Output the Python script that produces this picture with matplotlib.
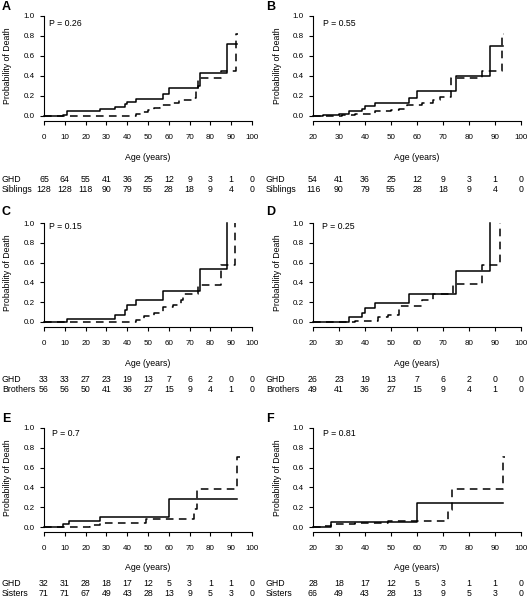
# cumulative probability of death, GHD vs siblings / brothers / sisters
import numpy as np
import matplotlib
matplotlib.use('Agg')
import matplotlib.pyplot as plt
import matplotlib.transforms as mtransforms

plt.rcParams['font.family'] = ['Liberation Sans', 'DejaVu Sans']

# ---- data (step curves: time of step, probability after step) ----
ghd_A_t = [0, 9, 11, 27, 34, 39, 40, 44, 57, 60, 74, 75, 88, 93]
ghd_A_p = [0, 0.01, 0.05, 0.07, 0.09, 0.12, 0.14, 0.17, 0.22, 0.28, 0.30, 0.43, 0.72, 0.72]
sib_A_t = [0, 10, 44, 47, 50, 53, 56, 62, 65, 72, 73, 74, 85, 92.5, 93.5]
sib_A_p = [0, 0.005, 0.02, 0.04, 0.06, 0.08, 0.11, 0.13, 0.16, 0.18, 0.28, 0.38, 0.45, 0.82, 0.82]

ghd_B_t = [20, 24, 30, 34, 39, 40, 44, 57, 60, 75, 88, 93]
ghd_B_p = [0, 0.01, 0.02, 0.05, 0.07, 0.10, 0.13, 0.18, 0.25, 0.40, 0.70, 0.70]
sib_B_t = [20, 24, 31, 36, 44, 50, 53, 56, 62, 66, 69, 73, 85, 92.5, 93.5]
sib_B_p = [0, 0.005, 0.01, 0.025, 0.05, 0.06, 0.07, 0.11, 0.13, 0.16, 0.19, 0.38, 0.45, 0.82, 0.82]

ghd_C_t = [0, 11, 34, 39, 40, 44, 57, 75, 88]
ghd_C_p = [0, 0.034, 0.074, 0.12, 0.17, 0.22, 0.31, 0.54, 1.0]
sib_C_t = [0, 44, 48, 53, 57, 62, 66, 67, 74, 85, 92]
sib_C_p = [0, 0.02, 0.06, 0.09, 0.15, 0.17, 0.22, 0.28, 0.37, 0.58, 1.0]

ghd_D_t = [20, 34, 39, 40, 44, 57, 75, 88]
ghd_D_p = [0, 0.05, 0.09, 0.145, 0.19, 0.28, 0.52, 1.0]
sib_D_t = [20, 36, 45, 49, 53, 62, 66, 74, 85, 92]
sib_D_p = [0, 0.007, 0.05, 0.067, 0.158, 0.225, 0.28, 0.387, 0.58, 1.0]

ghd_E_t = [0, 9, 12, 27, 60, 93]
ghd_E_p = [0, 0.034, 0.06, 0.104, 0.286, 0.286]
sib_E_t = [0, 10, 22, 27, 49, 72, 73.5, 93, 94]
sib_E_p = [0, 0.005, 0.02, 0.04, 0.084, 0.178, 0.387, 0.707, 0.707]

ghd_F_t = [20, 27, 60, 93]
ghd_F_p = [0, 0.05, 0.245, 0.245]
sib_F_t = [20, 23, 27, 36, 49, 72, 73.3, 93, 94]
sib_F_p = [0, 0.007, 0.03, 0.04, 0.064, 0.168, 0.387, 0.707, 0.707]

# number at risk
risk_A_ghd = [65, 64, 55, 41, 36, 25, 12, 9, 3, 1, 0]
risk_A_sib = [128, 128, 118, 90, 79, 55, 28, 18, 9, 4, 0]
risk_B_ghd = [54, 41, 36, 25, 12, 9, 3, 1, 0]
risk_B_sib = [116, 90, 79, 55, 28, 18, 9, 4, 0]
risk_C_ghd = [33, 33, 27, 23, 19, 13, 7, 6, 2, 0, 0]
risk_C_sib = [56, 56, 50, 41, 36, 27, 15, 9, 4, 1, 0]
risk_D_ghd = [26, 23, 19, 13, 7, 6, 2, 0, 0]
risk_D_sib = [49, 41, 36, 27, 15, 9, 4, 1, 0]
risk_E_ghd = [32, 31, 28, 18, 17, 12, 5, 3, 1, 1, 0]
risk_E_sib = [71, 71, 67, 49, 43, 28, 13, 9, 5, 3, 0]
risk_F_ghd = [28, 18, 17, 12, 5, 3, 1, 1, 0]
risk_F_sib = [66, 49, 43, 28, 13, 9, 5, 3, 0]

p_values = ['0.26', '0.55', '0.15', '0.25', '0.7', '0.81']
group_names = ['Siblings', 'Siblings', 'Brothers', 'Brothers', 'Sisters', 'Sisters']
letters = ['A', 'B', 'C', 'D', 'E', 'F']

W, H = 528, 603
fig = plt.figure(figsize=(W / 100, H / 100), dpi=100)


def px(x):
    return x / W


def py(y):
    return 1 - y / H


# panel geometry in pixels
cols = [(44, 252, 0, 2), (313, 521, 20, 266)]  # left, right, x min, label x
rows = [  # top(y=1), bottom(y=0), letter y, xlabel y, ghd row, group row, p text y
    (16, 116, 7, 157, 179.5, 189.5, 23),
    (223, 322, 212, 364, 379.5, 389.5, 227),
    (428, 527, 419, 568, 583.5, 593.5, 433),
]

curves = [
    (ghd_A_t, ghd_A_p, sib_A_t, sib_A_p, risk_A_ghd, risk_A_sib),
    (ghd_B_t, ghd_B_p, sib_B_t, sib_B_p, risk_B_ghd, risk_B_sib),
    (ghd_C_t, ghd_C_p, sib_C_t, sib_C_p, risk_C_ghd, risk_C_sib),
    (ghd_D_t, ghd_D_p, sib_D_t, sib_D_p, risk_D_ghd, risk_D_sib),
    (ghd_E_t, ghd_E_p, sib_E_t, sib_E_p, risk_E_ghd, risk_E_sib),
    (ghd_F_t, ghd_F_p, sib_F_t, sib_F_p, risk_F_ghd, risk_F_sib),
]
p_offset = [5, 10, 5, 9, 8, 10]

for i in range(6):
    r, c = divmod(i, 2)
    left, right, xmin, lab_x = cols[c]
    top, bottom, let_y, xl_y, ghd_y, grp_y, p_y = rows[r]
    gt, gp, st, sp, rg, rs = curves[i]

    ax = fig.add_axes([px(left), py(bottom), px(right - left), (bottom - top) / H])
    ax.step(gt, gp, where='post', color='black', lw=1.1, clip_on=False)
    ax.step(st, sp, where='post', color='black', lw=1.1, clip_on=False,
            linestyle=(0, (5, 3.5)))
    ax.set_xlim(xmin, 100)
    ax.set_ylim(0, 1)

    for s in ['top', 'right']:
        ax.spines[s].set_visible(False)
    ax.spines['left'].set_bounds(0, 1)
    ax.spines['bottom'].set_position(('outward', 3.6))
    ax.spines['bottom'].set_bounds(xmin, 100)
    for s in ['left', 'bottom']:
        ax.spines[s].set_linewidth(0.8)

    ticks = list(range(xmin, 101, 10))
    ax.set_xticks(ticks)
    ax.set_xticklabels([str(t) for t in ticks])
    ax.set_yticks([0, 0.2, 0.4, 0.6, 0.8, 1.0])
    ax.set_yticklabels(['0.0', '0.2', '0.4', '0.6', '0.8', '1.0'])
    ax.tick_params(axis='both', direction='out', length=2.6, width=0.8, labelsize=5.8)
    ax.tick_params(axis='x', pad=7)
    ax.tick_params(axis='y', pad=4.2)

    # texts
    fig.text(px(lab_x), py(let_y), letters[i], fontsize=9, fontweight='bold',
             ha='left', va='center')
    fig.text(px(left + p_offset[i]), py(p_y), 'P = ' + p_values[i], fontsize=6.3,
             ha='left', va='center')
    fig.text(px(left - 36), py((top + bottom) / 2), 'Probability of Death',
             fontsize=6.3, rotation=90, ha='center', va='center')
    fig.text(px((left + right) / 2), py(xl_y), 'Age (years)', fontsize=6.3,
             ha='center', va='center')

    # number at risk table
    trans = mtransforms.blended_transform_factory(ax.transData, fig.transFigure)
    fig.text(px(lab_x), py(ghd_y), 'GHD', fontsize=6.3, ha='left', va='center')
    fig.text(px(lab_x), py(grp_y), group_names[i], fontsize=6.3, ha='left', va='center')
    for t, n1, n2 in zip(ticks, rg, rs):
        ax.text(t, py(ghd_y), str(n1), transform=trans, fontsize=6.3,
                ha='center', va='center')
        ax.text(t, py(grp_y), str(n2), transform=trans, fontsize=6.3,
                ha='center', va='center')

fig.savefig('out.png', dpi=100)
